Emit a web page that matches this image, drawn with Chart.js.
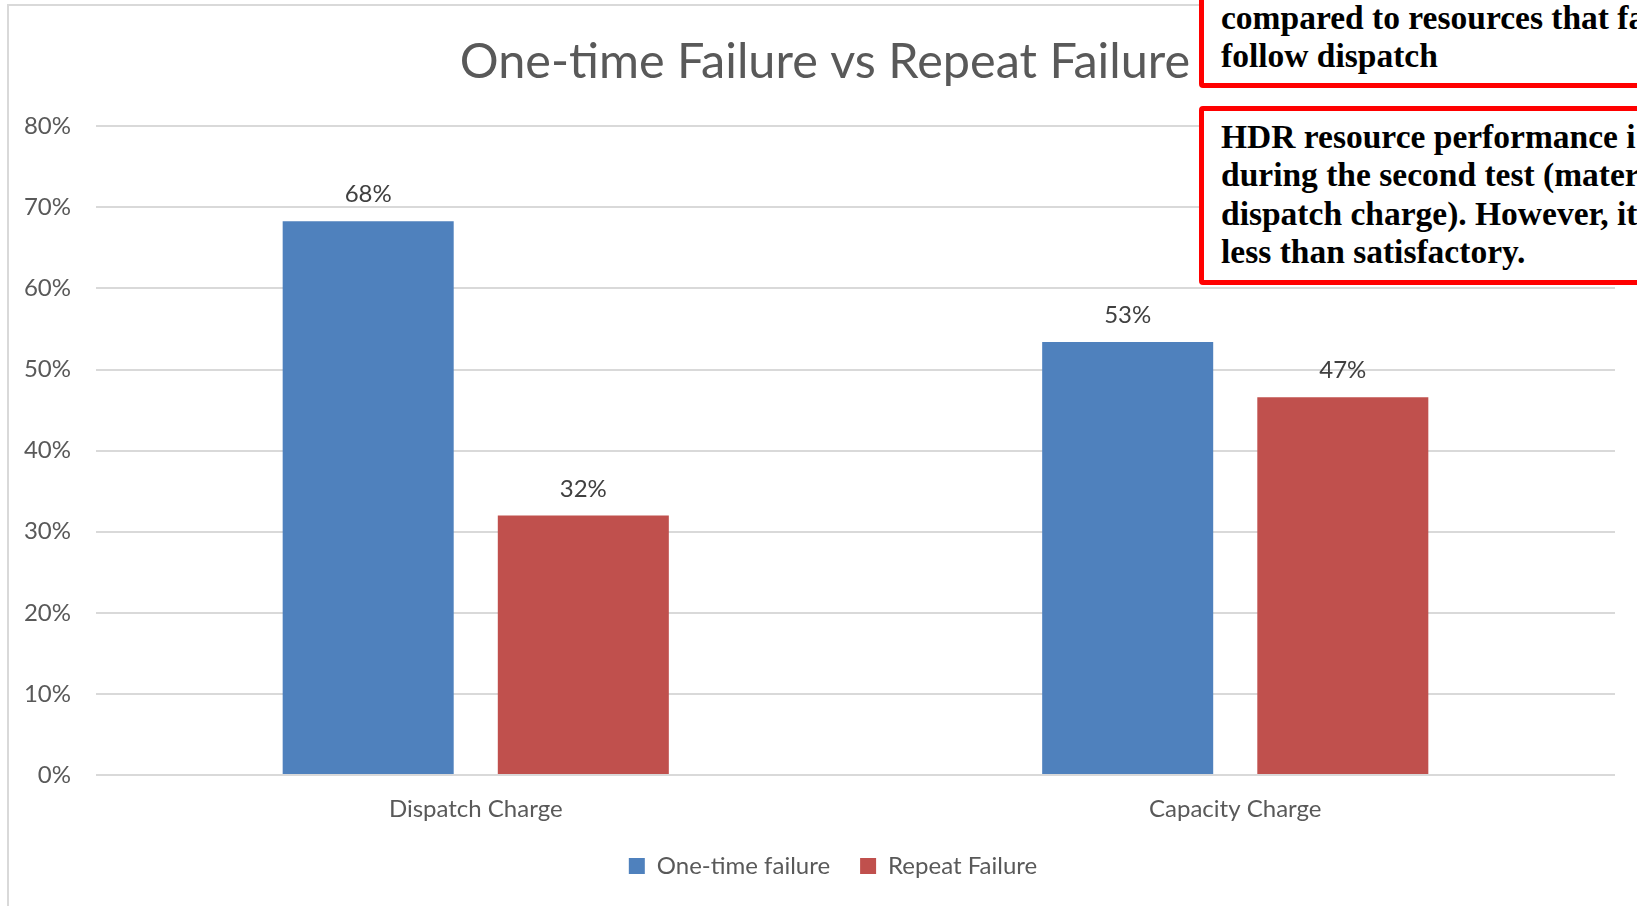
<!DOCTYPE html>
<html>
<head>
<meta charset="utf-8">
<script src="https://cdn.jsdelivr.net/npm/chart.js@4"></script>
<style>
  html, body { margin: 0; padding: 0; width: 1637px; height: 906px; overflow: hidden; background: #fff; }
  #frame { position: absolute; left: 7px; top: 4px; width: 1700px; height: 1000px; border: 2px solid #d9d9d9; box-sizing: border-box; }
  #c { position: absolute; left: 0; top: 0; }
  .note { position: absolute; left: 1199px; width: 600px; box-sizing: border-box; border: 5px solid #ff0000; border-radius: 4px; background: #fff;
          font-family: "Liberation Serif", serif; font-weight: bold; font-size: 33.5px; line-height: 38.6px; color: #000; white-space: nowrap; padding-left: 17px; }
</style>
</head>
<body>
<div id="frame"></div>
<canvas id="c" width="1637" height="906"></canvas>
<div class="note" style="top:-30px; height:118px; padding-top:23.5px;">compared to resources that fa<br>follow dispatch</div>
<div class="note" style="top:106px; height:179px; padding-top:6.5px;">HDR resource performance i<br>during the second test (mater<br>dispatch charge). However, it<br>less than satisfactory.</div>
<script>
const categories = ["Dispatch Charge", "Capacity Charge"];
const oneTimeFailure = [0.683, 0.534];
const repeatFailure = [0.320, 0.466];
const seriesNames = ["One-time failure", "Repeat Failure"];
const yTicks = [0, 0.1, 0.2, 0.3, 0.4, 0.5, 0.6, 0.7, 0.8];
const titleText = "One-time Failure vs Repeat Failure";

const pct = v => Math.round(v * 100) + "%";

const dataLabels = {
  id: "dataLabels",
  afterDatasetsDraw(chart) {
    const ctx = chart.ctx;
    ctx.save();
    ctx.font = "24px Lato";
    ctx.fillStyle = "#404040";
    ctx.textAlign = "center";
    ctx.textBaseline = "alphabetic";
    chart.data.datasets.forEach((ds, i) => {
      const meta = chart.getDatasetMeta(i);
      meta.data.forEach((el, j) => {
        ctx.fillText(pct(ds.data[j]), el.x, el.y - 19);
      });
    });
    ctx.restore();
  }
};

const legendShift = {
  id: "legendShift",
  afterLayout(chart) {
    const lg = chart.legend;
    if (lg) { lg.left += 8; lg.right += 8; }
  }
};

new Chart(document.getElementById("c"), {
  type: "bar",
  data: {
    labels: categories,
    datasets: [
      { label: seriesNames[0], data: oneTimeFailure, backgroundColor: "#4f81bd", categoryPercentage: 0.5665, barPercentage: 0.795 },
      { label: seriesNames[1], data: repeatFailure, backgroundColor: "#c0504d", categoryPercentage: 0.5665, barPercentage: 0.795 }
    ]
  },
  options: {
    responsive: false,
    animation: false,
    devicePixelRatio: 1,
    layout: { padding: { left: 13, right: 0, top: 0, bottom: 18 } },
    plugins: {
      title: {
        display: true,
        text: titleText,
        color: "#595959",
        font: { family: "Lato", size: 48.6, weight: "normal", lineHeight: 1.2 },
        padding: { top: 33, bottom: 35 }
      },
      legend: {
        position: "bottom",
        labels: {
          color: "#595959",
          font: { family: "Lato", size: 24 },
          boxWidth: 16,
          boxHeight: 16,
          padding: 30
        }
      },
      tooltip: { enabled: false }
    },
    scales: {
      x: {
        grid: { display: false, drawTicks: false },
        border: { display: false },
        ticks: { color: "#595959", font: { family: "Lato", size: 24 }, padding: 20 },
        afterFit(s) { s.height = 49; }
      },
      y: {
        min: 0,
        max: 0.8,
        afterBuildTicks(s) { s.ticks = yTicks.map(v => ({ value: v })); },
        grid: { color: "#d9d9d9", lineWidth: 2, drawTicks: false },
        border: { display: false },
        ticks: { color: "#595959", font: { family: "Lato", size: 24 }, padding: 25, callback: v => pct(v) },
        afterFit(s) { s.width = 83; }
      },
      yRight: {
        position: "right",
        display: true,
        grid: { display: false, drawTicks: false },
        border: { display: false },
        ticks: { display: false },
        afterFit(s) { s.width = 22; }
      }
    }
  },
  plugins: [dataLabels, legendShift]
});
</script>
</body>
</html>
